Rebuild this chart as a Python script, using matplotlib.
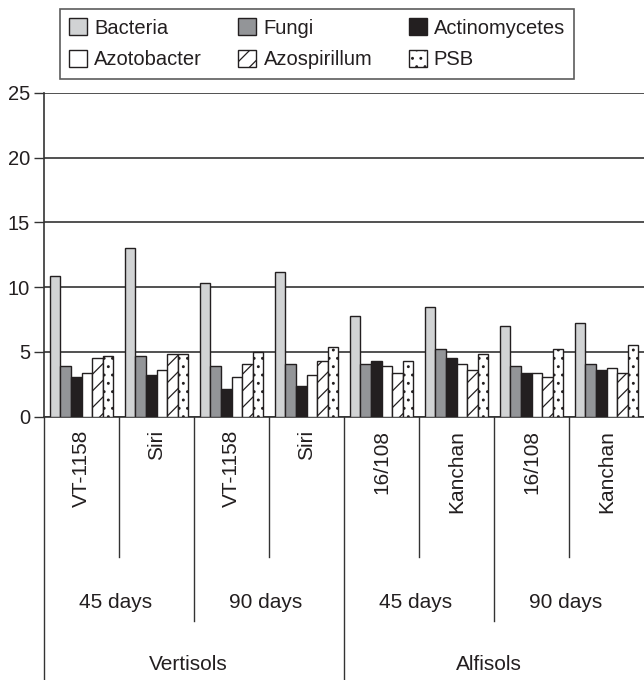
import matplotlib
matplotlib.use("Agg")
import matplotlib.pyplot as plt
from matplotlib.patches import Patch
import numpy as np

cultivars = ['VT-1158', 'Siri', 'VT-1158', 'Siri', '16/108', 'Kanchan', '16/108', 'Kanchan']
stages = ['45 days', '90 days', '45 days', '90 days']
soils = ['Vertisols', 'Alfisols']
series_names = ['Bacteria', 'Fungi', 'Actinomycetes', 'Azotobacter', 'Azospirillum', 'PSB']
bacteria = [10.85, 13.0, 10.3, 11.2, 7.75, 8.45, 7.0, 7.2]
fungi = [3.95, 4.65, 3.95, 4.1, 4.1, 5.2, 3.95, 4.1]
actino = [3.1, 3.25, 2.15, 2.35, 4.3, 4.5, 3.4, 3.6]
azoto = [3.4, 3.6, 3.05, 3.2, 3.95, 4.1, 3.4, 3.75]
azosp = [4.5, 4.85, 4.1, 4.3, 3.4, 3.6, 3.05, 3.4]
psb = [4.7, 4.85, 5.0, 5.4, 4.3, 4.85, 5.2, 5.55]
yticks = [0, 5, 10, 15, 20, 25]

plt.rcParams['font.family'] = ['Liberation Sans', 'DejaVu Sans']
plt.rcParams['hatch.linewidth'] = 0.9
plt.rcParams['hatch.color'] = '#231f20'

dark = '#231f20'
styles = [
    dict(facecolor='#d1d3d4', hatch=None),
    dict(facecolor='#939598', hatch=None),
    dict(facecolor='#231f20', hatch=None),
    dict(facecolor='white', hatch=None),
    dict(facecolor='white', hatch='//'),
    dict(facecolor='white', hatch='..'),
]

fig = plt.figure(figsize=(6.44, 6.8), dpi=100)
ax = fig.add_axes([44/644, (680-416.7)/680, 600/644, (416.7-92.7)/680])

data = [bacteria, fungi, actino, azoto, azosp, psb]
x = np.arange(len(cultivars))
w = 0.141
for i, (vals, st) in enumerate(zip(data, styles)):
    ax.bar(x + (i - 2.5) * w, vals, width=w, facecolor=st['facecolor'],
           hatch=st['hatch'], edgecolor=dark, linewidth=1.0, zorder=3)

ax.set_xlim(-0.5, 7.5)
ax.set_ylim(0, 25)
ax.set_yticks(yticks)
ax.set_yticklabels([str(t) for t in yticks], fontsize=14.5, color=dark)
ax.tick_params(axis='y', length=7, width=1.0, color='#333333', pad=3)
ax.set_xticks([])
ax.yaxis.grid(True, color='#333333', linewidth=1.2, zorder=0)
ax.set_axisbelow(True)
for s in ['top', 'right']:
    ax.spines[s].set_visible(False)
for s in ['left', 'bottom']:
    ax.spines[s].set_color('#333333')
    ax.spines[s].set_linewidth(1.2)

trans = ax.get_xaxis_transform()
axh = 416.7 - 92.7
def ay(py):
    return (416.7 - py) / axh

# separators
sep = {0.5: 557, 1.5: 620.7, 2.5: 557, 3.5: 680, 4.5: 557, 5.5: 620.7, 6.5: 557, -0.5: 680}
for xs, yb in sep.items():
    ax.plot([xs, xs], [0, ay(yb)], transform=trans, color='#333333', lw=1.0, clip_on=False)

for i, c in enumerate(cultivars):
    ax.text(i, ay(430), c, rotation=90, ha='center', va='top', fontsize=15,
            color=dark, transform=trans)
for j, s in enumerate(stages):
    ax.text(2 * j + 0.5 - 0.05, ay(602.7), s, ha='center', va='center', fontsize=15,
            color=dark, transform=trans)
for k, s in enumerate(soils):
    ax.text(4 * k + 1.5 - 0.07, ay(665), s, ha='center', va='center', fontsize=15,
            color=dark, transform=trans)

handles = [Patch(facecolor=st['facecolor'], hatch=st['hatch'], edgecolor=dark, linewidth=1.0,
                 label=n) for st, n in zip(styles, series_names)]
order = [0, 3, 1, 4, 2, 5]
leg = fig.legend([handles[i] for i in order], [series_names[i] for i in order],
                 ncol=3, loc='upper left', bbox_to_anchor=(60/644, 1 - 9.3/680),
                 fontsize=14.5, frameon=True, fancybox=False, handlelength=0.9,
                 handleheight=0.9, handletextpad=0.35, columnspacing=1.8,
                 labelspacing=0.62, borderpad=0.45, borderaxespad=0)
leg.get_frame().set_edgecolor('#333333')
leg.get_frame().set_linewidth(1.2)
for t in leg.get_texts():
    t.set_color(dark)

fig.savefig('out.png', dpi=100)
